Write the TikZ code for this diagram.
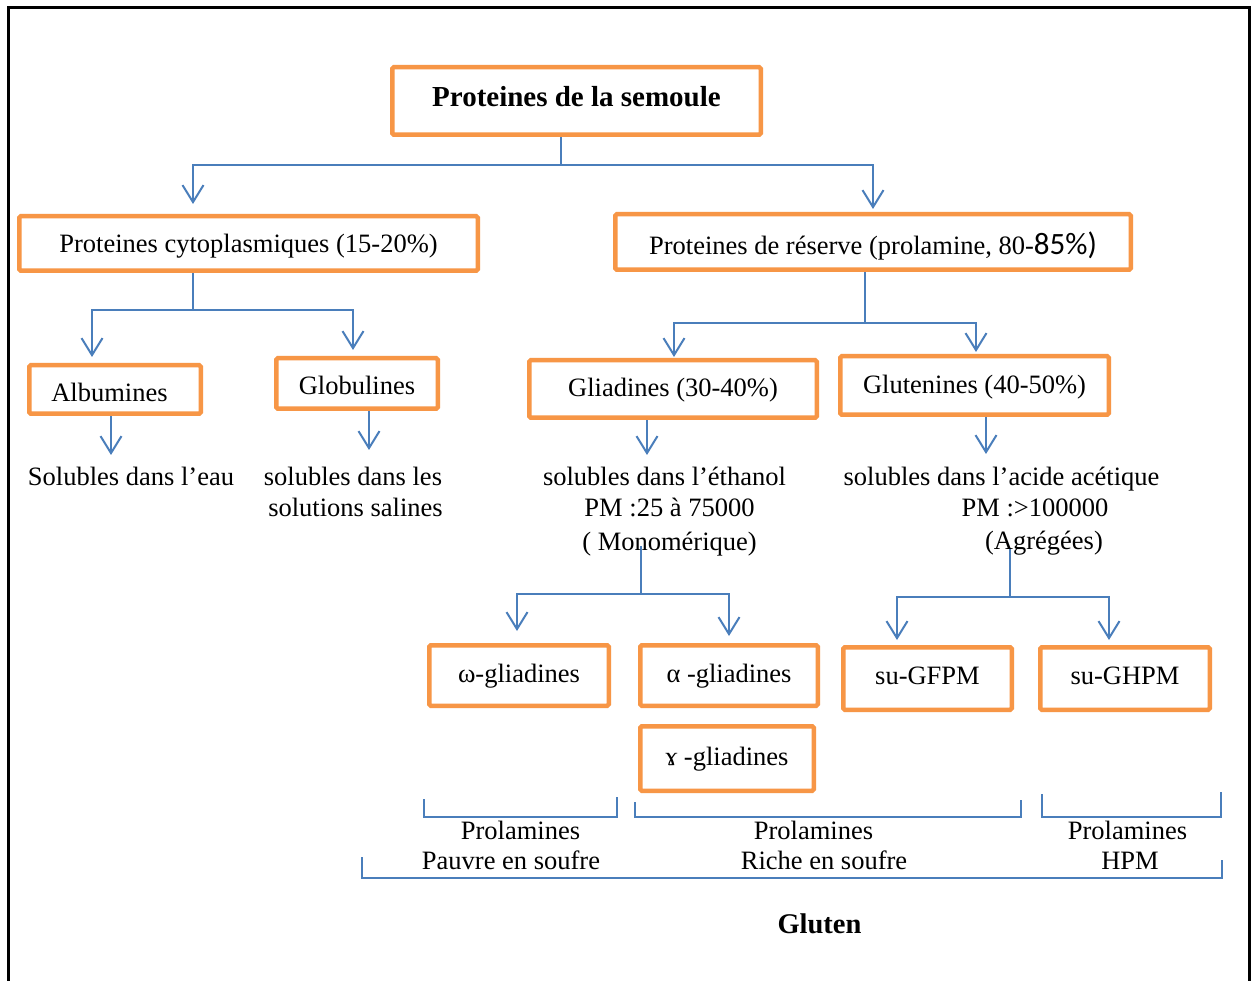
\documentclass[tikz,border=0pt]{standalone}
\usepackage{fontspec}
\setmainfont{Liberation Serif}
\newfontfamily\calibrisub{Carlito}
\usetikzlibrary{arrows.meta}
\definecolor{boxorange}{HTML}{F79646}
\definecolor{linkblue}{HTML}{4A7EBB}
\pgfdeclarelayer{bg}
\pgfsetlayers{bg,main}
\begin{document}
\begin{tikzpicture}[x=1pt,y=-1pt,
  txt/.style={font=\fontsize{26.5}{30}\selectfont, inner sep=0pt},
  obox/.style={draw=boxorange, line width=4.5pt, rounded corners=1.5pt, fill=white,
    inner sep=0pt, font=\fontsize{26.5}{30}\selectfont, text height=17pt, text depth=5pt},
  conn/.style={draw=linkblue, line width=2pt},
  arr/.style={conn, -{Straight Barb[length=17pt,width=21pt]}},
  brk/.style={draw=linkblue, line width=2pt},
]
\useasboundingbox (0,0) rectangle (1256,981);
\begin{pgfonlayer}{bg}
  \fill[white] (0,0) rectangle (1256,981);
\end{pgfonlayer}

% page frame, open at the bottom
\draw[line width=3pt] (8,995) -- (8,8) -- (1249,8) -- (1249,995);

% boxes
\node[obox, minimum width=368.5pt, minimum height=67.5pt, text height=17pt,
      font=\fontsize{29}{32}\selectfont\bfseries] (sem) at (576.5,101) {Proteines de la semoule};
\node[obox, minimum width=458.5pt, minimum height=54.5pt, text height=24pt] (cyto) at (248.5,243.5)
      {Proteines cytoplasmiques (15-20\%)};
\node[obox, minimum width=515.5pt, minimum height=55.5pt, text height=30pt] (res) at (873,242)
      {Proteines de réserve (prolamine, 80-{\calibrisub\fontsize{31}{32}\selectfont 85\%)}};
\node[obox, minimum width=171.5pt, minimum height=48.5pt, text height=30pt] (alb) at (115,389.5)
      {\hspace*{-11pt}Albumines};
\node[obox, minimum width=161.5pt, minimum height=50.5pt, text height=28pt] (glob) at (357,383.5) {Globulines};
\node[obox, minimum width=287.5pt, minimum height=57.5pt, text height=21pt] (glia) at (673,389) {Gliadines (30-40\%)};
\node[obox, minimum width=268.5pt, minimum height=58.5pt, text height=21pt] (glut) at (974.5,385.5) {Glutenines (40-50\%)};
\node[obox, minimum width=179.5pt, minimum height=60.5pt, text height=18pt] (omg) at (519,675.5) {ω-gliadines};
\node[obox, minimum width=177.5pt, minimum height=60.5pt, text height=18pt] (alp) at (729,675.5) {α -gliadines};
\node[obox, minimum width=173.5pt, minimum height=64.5pt, text height=18pt] (gam) at (727,758.5) {ɤ -gliadines};
\node[obox, minimum width=168.5pt, minimum height=62.5pt, text height=16pt] (gfpm) at (927.5,678.5) {su-GFPM};
\node[obox, minimum width=169.5pt, minimum height=62.5pt, text height=16pt] (ghpm) at (1125,678.5) {su-GHPM};

% free texts
\node[txt, anchor=base] (solA) at (131,485) {Solubles dans l’eau};
\node[txt, anchor=base] (solB1) at (353,485) {solubles dans les};
\node[txt, anchor=base] (solB2) at (355.5,516) {solutions salines};
\node[txt, anchor=base] (eth1) at (664.5,485) {solubles dans l’éthanol};
\node[txt, anchor=base] (eth2) at (669.5,516) {PM :25 à 75000};
\node[txt, anchor=base] (eth3) at (669.5,550) {( Monomérique)};
\node[txt, anchor=base] (ac1) at (1001.5,485) {solubles dans l’acide acétique};
\node[txt, anchor=base] (ac2) at (1035,516) {PM :>100000};
\node[txt, anchor=base] (ac3) at (1044,549) {(Agrégées)};
\node[txt, anchor=base] (pro1) at (520.5,839) {Prolamines};
\node[txt, anchor=base] (pro2) at (813.5,839) {Prolamines};
\node[txt, anchor=base] (pro3) at (1127.5,839) {Prolamines};
\node[txt, anchor=base] (pau) at (511,869) {Pauvre en soufre};
\node[txt, anchor=base] (ric) at (824,869) {Riche en soufre};
\node[txt, anchor=base] (hpm) at (1130,869) {HPM};
\node[txt, anchor=base, font=\fontsize{28.5}{32}\selectfont\bfseries] (glu) at (819.5,933) {Gluten};

% junctions and free ends
\coordinate (k0) at (561,165);  \coordinate (kL) at (193,165);  \coordinate (kR) at (873,165);
\coordinate (c0) at (193,310);  \coordinate (cL) at (92,310);   \coordinate (cR) at (353,310);
\coordinate (r0) at (865,323);  \coordinate (rL) at (674,323);  \coordinate (rR) at (976,323);
\coordinate (tA) at (111,455);  \coordinate (tB) at (369,450);
\coordinate (tD) at (647,455);  \coordinate (tT) at (986,454);
\coordinate (g0) at (641,546);  \coordinate (g1) at (641,594);
\coordinate (gL) at (517,594);  \coordinate (gR) at (729,594);
\coordinate (u0) at (1010,548); \coordinate (u1) at (1010,597);
\coordinate (uL) at (897,597);  \coordinate (uR) at (1109,597);

\begin{pgfonlayer}{bg}
  \draw[conn] (sem.south -| k0) -- (k0);
  \draw[arr, shorten >=10pt] (k0) -| (cyto.north -| kL);
  \draw[arr, shorten >=3pt] (k0) -| (res.north -| kR);

  \draw[conn] (cyto.south -| c0) -- (c0);
  \draw[arr, shorten >=6pt] (c0) -| (alb.north -| cL);
  \draw[arr, shorten >=6pt] (c0) -| (glob.north -| cR);

  \draw[conn] (res.south -| r0) -- (r0);
  \draw[arr, shorten >=1pt] (r0) -| (glia.north -| rL);
  \draw[arr, shorten >=2pt] (r0) -| (glut.north -| rR);

  \draw[arr] (alb.south -| tA) -- (tA);
  \draw[arr] (glob.south -| tB) -- (tB);
  \draw[arr] (glia.south -| tD) -- (tD);
  \draw[arr] (glut.south -| tT) -- (tT);

  \draw[conn] (g0) -- (g1);
  \draw[arr, shorten >=12pt] (g1) -| (omg.north -| gL);
  \draw[arr, shorten >=7pt] (g1) -| (alp.north -| gR);

  \draw[conn] (u0) -- (u1);
  \draw[arr, shorten >=5pt] (u1) -| (gfpm.north -| uL);
  \draw[arr, shorten >=5pt] (u1) -| (ghpm.north -| uR);
\end{pgfonlayer}

% brackets grouping the prolamines
\draw[brk] (424,799) -- (424,817) -- (617,817) -- (617,797);
\draw[brk] (635,802) -- (635,817) -- (1021,817) -- (1021,800);
\draw[brk] (1042,794) -- (1042,817) -- (1221,817) -- (1221,792);
\draw[brk] (362,857) -- (362,878) -- (1222,878) -- (1222,860);
\end{tikzpicture}
\end{document}
